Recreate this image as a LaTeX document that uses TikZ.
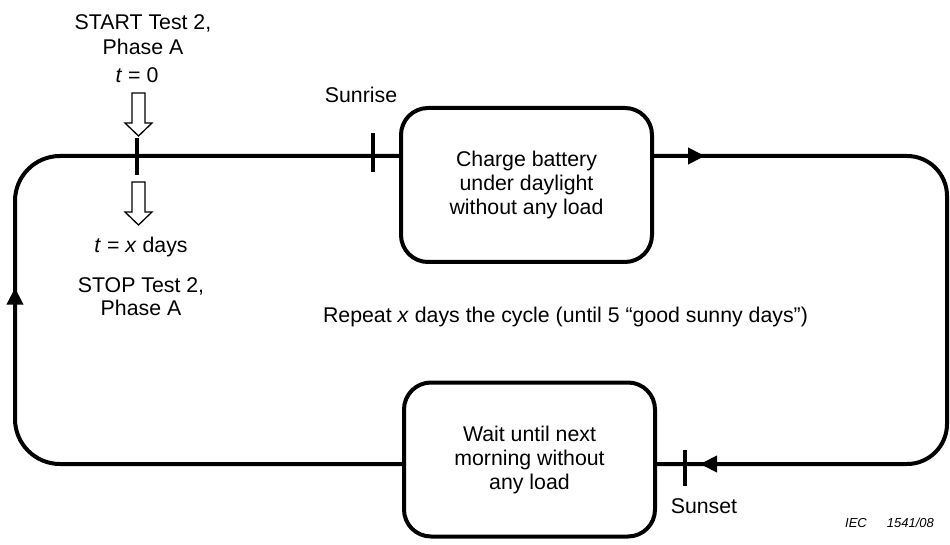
\documentclass[tikz,border=0pt]{standalone}
\usepackage{fontspec}
\setmainfont{Liberation Sans}
\usetikzlibrary{arrows.meta,decorations.markings}
\begin{document}
\begin{tikzpicture}[x=1pt,y=-1pt,
  every node/.style={inner sep=0pt,font=\fontsize{21.3}{24}\selectfont},
  procbox/.style={draw,line width=4pt,rounded corners=27pt,align=center,minimum width=251pt,minimum height=154pt,fill=white},
  loopline/.style={line width=4pt},
  tickmark/.style={line width=4.5pt},
  openarrow/.style={draw,line width=1.3pt,fill=white},
  lbl/.style={anchor=base},
  flowtip/.style={postaction={decorate},decoration={markings,mark=at position #1 with {\arrow{Triangle[length=17pt,width=16pt]}}}},
  flowtips/.style 2 args={postaction={decorate},decoration={markings,
     mark=at position #1 with {\arrow{Triangle[length=17pt,width=16pt]}},
     mark=at position #2 with {\arrow{Triangle[length=17pt,width=16pt]}}}}
]
\useasboundingbox (0,0) rectangle (950,545);

\coordinate (TL) at (15,156);
\coordinate (TR) at (947,156);
\coordinate (BR) at (947,464);
\coordinate (BL) at (15,464);

\node[procbox] (charge) at (526.5,185) {Charge battery\\under daylight\\without any load};
\node[procbox] (wait) at (529.5,459.5) {Wait until next\\morning without\\any load};

\draw[loopline,rounded corners=40pt,flowtips={51pt}{-43pt}] (charge.east|-TL) -- (TR) -- (BR) -- (wait.east|-BL);
\draw[loopline,rounded corners=45pt,flowtip=544pt] (wait.west|-BL) -- (BL) -- (TL) -- (charge.west|-TL);

\draw[tickmark] (137,138) -- (137,175);
\draw[tickmark] (373,133) -- (373,172);
\draw[tickmark] (685,450) -- (685,486);

\draw[openarrow] (132,93) -- (145,93) -- (145,123) -- (152,123) -- (138.5,136) -- (125,123) -- (132,123) -- cycle;
\draw[openarrow] (132,182) -- (145,182) -- (145,212) -- (152,212) -- (138.5,225) -- (125,212) -- (132,212) -- cycle;

\node[lbl] (start1) at (143,30) {START Test 2,};
\node[lbl] (start2) at (143,55) {Phase A};
\node[lbl] (t0) at (137,83) {\textit{t} = 0};
\node[lbl] (tx) at (141,253) {\textit{t} = \textit{x} days};
\node[lbl] (stop1) at (141,293) {STOP Test 2,};
\node[lbl] (stop2) at (141,315) {Phase A};
\node[lbl] (sunrise) at (361,103) {Sunrise};
\node[lbl] (sunset) at (704,513) {Sunset};
\node[lbl] (repeat) at (565.5,322) {Repeat \textit{x} days the cycle (until 5 “good sunny days”)};
\node[lbl,anchor=base west,font=\fontsize{13}{15}\selectfont\itshape] (iec) at (845,527) {IEC\hspace{20pt}1541/08};
\end{tikzpicture}
\end{document}
